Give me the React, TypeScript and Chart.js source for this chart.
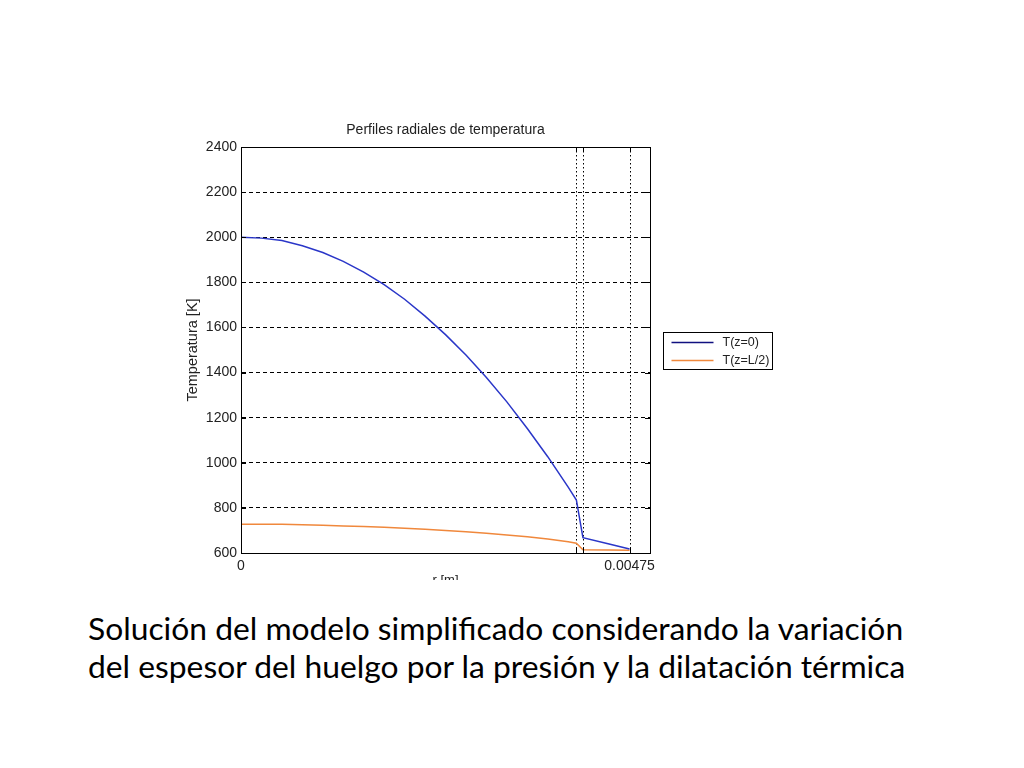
import { useEffect, useRef } from "react";
import { Chart, registerables, type ChartConfiguration, type Plugin } from "chart.js";

Chart.register(...registerables);

// radial positions [m] and temperatures [K]
const radius = [
  0, 0.00025, 0.0005, 0.00075, 0.001, 0.00125, 0.0015, 0.00175, 0.002, 0.00225, 0.0025,
  0.00275, 0.003, 0.00325, 0.0035, 0.00375, 0.004, 0.0041, 0.00418, 0.0045, 0.00475,
];
const tempCenter = [
  2000, 1996, 1985, 1962, 1932, 1893, 1845, 1790, 1725, 1650, 1568,
  1478, 1378, 1270, 1152, 1027, 892, 835, 668, 640, 618,
];
const tempMid = [
  728, 728, 727, 725, 723, 720, 717, 714, 710, 705, 700,
  694, 688, 680, 672, 662, 650, 643, 614, 613, 612,
];

const seriesLabels = ["T(z=0)", "T(z=L/2)"];
const seriesColors = ["#2a36c8", "#f0883c"];
const legendColors = ["#101080", "#f0883c"];
const chartTitle = "Perfiles radiales de temperatura";

// pellet surface, clad inner and clad outer radius
const interfaceRadii = [0.0041, 0.00418, 0.00475];
const xTickValues = [0, 0.00475];
const xTickLabels = ["0", "0.00475"];
const xMax = 0.005;
const yMin = 600;
const yMax = 2400;
const yStep = 200;

const FONT = "'Liberation Sans', Arial, sans-serif";

const framePlugin: Plugin = {
  id: "framePlugin",
  beforeDatasetsDraw(chart) {
    const { ctx, chartArea, scales } = chart;
    ctx.save();
    ctx.strokeStyle = "#000";
    ctx.lineWidth = 1;
    ctx.setLineDash([1.5, 2.5]);
    for (const r of interfaceRadii) {
      const x = Math.round(scales.x.getPixelForValue(r)) + 0.5;
      ctx.beginPath();
      ctx.moveTo(x, chartArea.top);
      ctx.lineTo(x, chartArea.bottom);
      ctx.stroke();
    }
    ctx.restore();
  },
  afterDraw(chart) {
    const { ctx, chartArea, scales } = chart;
    ctx.save();
    ctx.strokeStyle = "#000";
    ctx.lineWidth = 1;
    ctx.setLineDash([]);
    ctx.strokeRect(
      Math.round(chartArea.left) + 0.5,
      Math.round(chartArea.top) + 0.5,
      Math.round(chartArea.right - chartArea.left),
      Math.round(chartArea.bottom - chartArea.top)
    );
    // small inner tick marks
    ctx.beginPath();
    for (const r of interfaceRadii) {
      const x = Math.round(scales.x.getPixelForValue(r)) + 0.5;
      ctx.moveTo(x, chartArea.top);
      ctx.lineTo(x, chartArea.top + 5);
      ctx.moveTo(x, chartArea.bottom);
      ctx.lineTo(x, chartArea.bottom - 5);
    }
    for (let v = yMin; v <= yMax; v += yStep) {
      const y = Math.round(scales.y.getPixelForValue(v)) + 0.5;
      ctx.moveTo(chartArea.left, y);
      ctx.lineTo(chartArea.left + 5, y);
      ctx.moveTo(chartArea.right, y);
      ctx.lineTo(chartArea.right - 5, y);
    }
    ctx.stroke();

    // title centred over the axes box
    ctx.fillStyle = "#222";
    ctx.font = `14px ${FONT}`;
    ctx.textAlign = "center";
    ctx.textBaseline = "middle";
    ctx.fillText(chartTitle, (chartArea.left + chartArea.right) / 2, chartArea.top - 17);

    // legend box
    const bw = 109;
    const bh = 37;
    const bx = Math.round(chartArea.right + 13) + 0.5;
    const by = Math.round((chartArea.top + chartArea.bottom) / 2 - bh / 2) + 0.5;
    ctx.fillStyle = "#fff";
    ctx.fillRect(bx, by, bw, bh);
    ctx.strokeRect(bx, by, bw, bh);
    ctx.font = `12.5px ${FONT}`;
    ctx.textAlign = "left";
    chart.data.datasets.forEach((ds, i) => {
      const y = by + 10 + i * 18;
      ctx.strokeStyle = legendColors[i];
      ctx.lineWidth = 1.5;
      ctx.beginPath();
      ctx.moveTo(bx + 8, y);
      ctx.lineTo(bx + 50, y);
      ctx.stroke();
      ctx.fillStyle = "#222";
      ctx.fillText(String(ds.label), bx + 59, y);
    });
    ctx.restore();
  },
};

function TemperatureChart() {
  const canvasRef = useRef<HTMLCanvasElement>(null);

  useEffect(() => {
    const canvas = canvasRef.current;
    if (!canvas) return;

    const config: ChartConfiguration<"line"> = {
      type: "line",
      data: {
        datasets: [tempCenter, tempMid].map((temps, i) => ({
          label: seriesLabels[i],
          data: radius.map((r, j) => ({ x: r, y: temps[j] })),
          borderColor: seriesColors[i],
          borderWidth: 1.5,
          pointRadius: 0,
          tension: 0,
          fill: false,
        })),
      },
      options: {
        responsive: true,
        maintainAspectRatio: false,
        animation: false,
        layout: { padding: { top: 37, right: 140, bottom: 0, left: 0 } },
        plugins: {
          legend: { display: false },
          tooltip: { enabled: false },
          title: { display: false },
        },
        scales: {
          x: {
            type: "linear",
            min: 0,
            max: xMax,
            afterBuildTicks: (scale) => {
              scale.ticks = xTickValues.map((v) => ({ value: v }));
            },
            afterFit: (scale) => {
              scale.height = 47;
            },
            ticks: {
              autoSkip: false,
              maxRotation: 0,
              padding: 5,
              color: "#222",
              font: { family: FONT, size: 14 },
              callback: (value) => {
                const idx = xTickValues.indexOf(Number(value));
                return idx >= 0 ? xTickLabels[idx] : "";
              },
            },
            grid: { display: false, drawTicks: false },
            border: { display: true, color: "#000", width: 1 },
            title: {
              display: true,
              text: "r [m]",
              color: "#222",
              font: { family: FONT, size: 13 },
              padding: { top: 0, bottom: 12 },
            },
          },
          y: {
            type: "linear",
            min: yMin,
            max: yMax,
            afterFit: (scale) => {
              scale.width = 71;
            },
            ticks: {
              stepSize: yStep,
              padding: 4,
              color: "#222",
              font: { family: FONT, size: 14 },
              callback: (value) => String(value),
            },
            grid: { color: "#000", lineWidth: 1, drawTicks: false },
            border: { display: true, color: "#000", width: 1, dash: [4, 3] },
            title: {
              display: true,
              text: "Temperatura [K]",
              color: "#222",
              font: { family: FONT, size: 14.5 },
              padding: { top: 14, bottom: 0 },
            },
          },
        },
      },
      plugins: [framePlugin],
    };

    Chart.getChart(canvas)?.destroy();
    const chart = new Chart(canvas, config);
    return () => chart.destroy();
  }, []);

  return (
    <div style={{ position: "absolute", left: 170, top: 110, width: 620, height: 470, overflow: "hidden" }}>
      <div style={{ position: "relative", width: 620, height: 490 }}>
        <canvas ref={canvasRef} />
      </div>
    </div>
  );
}

export default function App() {
  return (
    <div style={{ position: "absolute", left: 0, top: 0, width: 1024, height: 768, background: "#fff" }}>
      <TemperatureChart />
      <div
        style={{
          position: "absolute",
          left: 88,
          top: 609,
          fontFamily: "Lato, 'Noto Sans', sans-serif",
          fontSize: 31.8,
          lineHeight: "38px",
          color: "#000",
          whiteSpace: "nowrap",
        }}
      >
        Solución del modelo simplificado considerando la variación
        <br />
        del espesor del huelgo por la presión y la dilatación térmica
      </div>
    </div>
  );
}
